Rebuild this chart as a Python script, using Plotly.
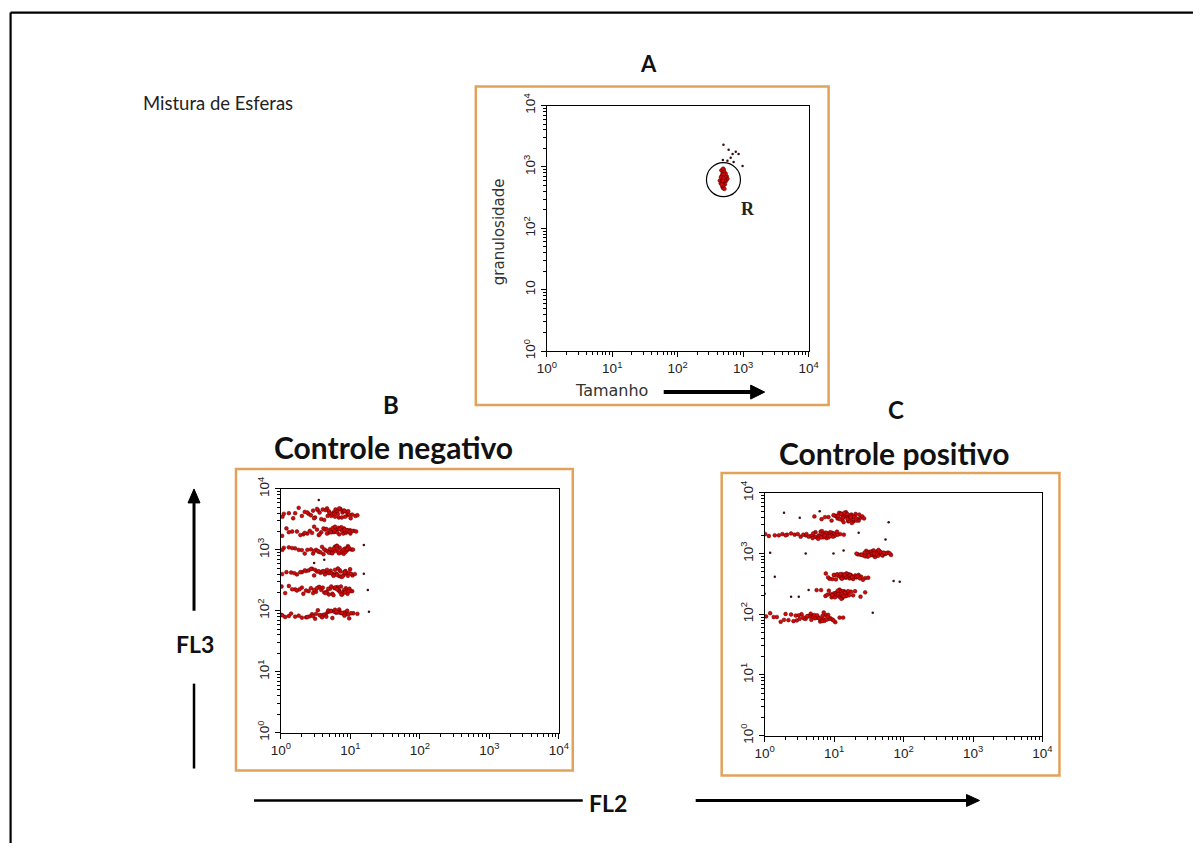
import plotly.graph_objects as go

# figure canvas; the html body adds an 8px margin around it
W, H, BODY = 1203, 851, 8
# capture of the page is slightly reduced; layout positions below are final-image pixels
SX, SY, OX, OY = 0.984, 0.978, 1.0, 2.5

# ---------------- data ----------------
decades = [1, 10, 100, 1000, 10000]
tick_a_x = ["10<sup>0</sup>", "10<sup>1</sup>", "10<sup>2</sup>", "10<sup>3</sup>", "10<sup>4</sup>"]
tick_a_y = ["10<sup>0</sup>", "10", "10<sup>2</sup>", "10<sup>3</sup>", "10<sup>4</sup>"]
tick_std = ["10<sup>0</sup>", "10<sup>1</sup>", "10<sup>2</sup>", "10<sup>3</sup>", "10<sup>4</sup>"]

# A: bead mixture, size (Tamanho) vs granularity (granulosidade)
gate_x = [440, 455, 470, 480, 490, 500, 510, 520, 530, 545, 560, 575, 465, 485, 495, 505, 515, 525,
          540, 475, 490, 500, 512, 528, 458, 482, 498, 508, 520, 535, 470, 495, 505, 518, 488, 502]
gate_y = [600, 540, 700, 480, 820, 620, 560, 740, 660, 590, 700, 640, 880, 650, 450, 900, 700, 520,
          780, 590, 720, 500, 840, 620, 680, 760, 580, 680, 600, 680, 520, 940, 760, 440, 600, 660]
gate_out_x = [500, 600, 690, 770, 850, 645, 575, 980, 490, 715]
gate_out_y = [2290, 1900, 1630, 1770, 1630, 1410, 1260, 1040, 1300, 1200]
gate_center = (500, 620)

# B: negative control, FL2 vs FL3 (six bead populations, top to bottom)
neg_fl2 = [
    [1.1, 3.4, 6.8, 2.2, 9.1, 4.6, 1.5, 7.7, 5.3, 2.9, 10.6, 3.8, 6.1, 1.3, 8.4, 4.9, 2.5, 7.2, 11.8, 5.7,
     3.1, 1.8, 9.6, 6.4, 4.2, 8.0, 2.7, 5.0, 1.05, 7.0, 3.6, 10.1, 6.6, 4.4, 2.0, 8.8, 5.5, 3.3, 7.5, 1.6,
     9.3, 6.0, 4.0, 12.6, 2.4, 5.9, 8.2, 3.0, 6.9, 4.7],
    [2.6, 7.9, 1.2, 5.4, 9.8, 3.5, 6.7, 1.7, 8.6, 4.3, 11.2, 2.1, 7.1, 5.8, 3.0, 9.4, 1.04, 6.2, 4.8, 8.1,
     2.4, 10.5, 5.1, 3.8, 7.4, 1.45, 6.9, 9.0, 4.5, 2.8, 8.4, 5.6, 1.9, 7.6, 3.3, 10.0, 6.4, 4.1, 12.1, 2.2,
     8.9, 5.9, 3.6, 7.0, 1.3, 6.0, 9.7, 4.6, 8.2, 5.2],
    [4.4, 1.1, 7.3, 2.7, 9.2, 5.6, 3.2, 8.0, 1.6, 6.1, 10.4, 3.9, 6.8, 2.0, 8.7, 5.0, 1.3, 7.7, 4.1, 9.7,
     2.4, 6.4, 3.5, 8.3, 5.3, 1.8, 7.0, 4.7, 10.9, 2.9, 6.0, 8.9, 3.7, 5.8, 1.05, 7.5, 4.2, 9.4, 2.2, 6.6,
     5.1, 3.0, 8.5, 1.45, 7.9, 4.9, 6.3, 3.4, 9.0, 5.5],
    [1.2, 5.9, 3.1, 8.8, 2.3, 6.9, 4.5, 1.04, 9.9, 3.7, 7.4, 5.2, 1.7, 8.2, 2.8, 6.3, 4.0, 10.7, 1.4, 7.0,
     5.6, 3.3, 9.2, 2.0, 6.6, 4.8, 8.0, 2.5, 5.0, 11.6, 3.5, 7.7, 1.9, 6.0, 4.3, 9.5, 2.7, 5.4, 8.5, 3.0,
     7.2, 1.55, 4.6, 6.4, 3.9, 10.2, 2.2, 5.7, 8.3, 4.1],
    [3.8, 1.15, 6.5, 2.5, 8.6, 4.9, 1.6, 7.3, 3.2, 9.7, 5.5, 2.0, 6.9, 4.2, 1.3, 8.1, 2.9, 5.9, 10.6, 3.5,
     7.6, 1.85, 4.6, 6.2, 2.3, 9.1, 5.1, 1.02, 7.9, 3.0, 6.0, 4.4, 8.9, 2.7, 5.7, 1.45, 7.0, 3.6, 10.0, 4.8,
     2.1, 6.7, 5.3, 8.4, 3.3, 1.7, 7.4, 4.0, 9.4, 6.4],
    [1.0, 4.7, 2.3, 7.8, 3.4, 1.3, 6.2, 9.6, 2.8, 5.3, 1.6, 8.4, 4.0, 6.9, 2.0, 11.0, 3.7, 5.8, 1.15, 7.3,
     4.4, 9.0, 2.6, 6.5, 3.1, 12.6, 5.0, 1.8, 8.0, 4.2, 6.0, 2.4, 10.2, 3.6, 7.0, 5.5, 1.4, 8.8, 4.8, 2.9,
     6.7, 3.9, 9.3, 5.2, 1.05, 7.5, 4.5, 6.3, 3.2, 8.2],
]
neg_fl3 = [
    [3900, 4500, 3400, 4200, 3700, 4800, 3300, 4100, 3600, 4400, 3800, 3200, 4600, 4000, 3500, 4300, 3900, 4700,
     3600, 4100, 3400, 4900, 3800, 4200, 3100, 4400, 3700, 4000, 3500, 4600, 4100, 3300, 3900, 4500, 3600, 4200,
     3800, 4700, 3400, 4000, 4300, 3500, 4600, 3700, 4100, 3900, 4400, 3300, 4800, 3600],
    [2050, 1850, 2250, 1950, 2100, 1750, 2300, 2000, 1900, 2150, 2050, 1800, 2200, 1950, 2400, 2000, 1700, 2100,
     1900, 2250, 1850, 2050, 2150, 1950, 2350, 2000, 1800, 2100, 2200, 1900, 2000, 2300, 1750, 2050, 2150, 1850,
     1950, 2250, 2000, 1900, 2100, 2050, 1800, 2200, 1950, 2400, 2000, 1850, 2150, 1950],
    [980, 1080, 900, 1020, 1150, 940, 1000, 860, 1060, 960, 1010, 1120, 880, 990, 1040, 920, 1100, 970,
     850, 1030, 1000, 1170, 930, 1050, 890, 1000, 1090, 950, 1010, 870, 1130, 980, 910, 1060, 1000, 940,
     1020, 1100, 870, 990, 1040, 960, 920, 1070, 1000, 900, 1140, 960, 1030, 880],
    [430, 390, 470, 410, 450, 370, 440, 400, 480, 420, 360, 455, 395, 435, 490, 405, 445, 380,
     425, 465, 400, 440, 375, 430, 495, 415, 385, 460, 420, 400, 445, 365, 430, 470, 395, 420,
     485, 410, 450, 380, 440, 415, 470, 390, 430, 405, 460, 375, 425, 445],
    [220, 195, 245, 210, 235, 185, 225, 250, 205, 230, 190, 240, 215, 200, 255, 220, 195, 235,
     210, 245, 185, 225, 205, 240, 215, 190, 230, 250, 200, 220, 240, 195, 215, 235, 180, 225,
     205, 245, 210, 230, 190, 220, 250, 200, 235, 215, 185, 240, 210, 225],
    [86, 95, 78, 90, 102, 82, 93, 75, 88, 99, 80, 94, 85, 105, 77, 91, 84, 97,
     79, 92, 87, 100, 81, 95, 74, 89, 98, 83, 93, 86, 104, 79, 91, 85, 96, 76,
     90, 88, 101, 82, 94, 78, 87, 99, 84, 92, 80, 96, 89, 83],
]
neg_out_fl2 = [3.5, 15.6, 17.8, 18.5, 15.6, 3.0, 4.2]
neg_out_fl3 = [6600, 1200, 220, 96, 405, 610, 690]

# C: positive control, FL2 vs FL3 (six bead populations, top to bottom)
pos_fl2 = [
    [13.5, 17.8, 9.2, 15.1, 21.5, 11.8, 19.0, 7.4, 14.2, 16.6, 24.0, 12.4, 18.3, 10.3, 15.8, 20.4, 13.0, 8.3,
     17.1, 22.6, 14.8, 11.2, 19.7, 16.0, 12.9, 6.6, 18.8, 14.5, 21.0, 10.8, 16.9, 13.7, 25.5, 15.4, 12.1, 19.4,
     9.8, 17.5, 14.0, 20.8, 11.5, 16.3, 23.0, 13.3, 18.0, 5.2, 15.6, 12.6, 27.0, 17.3],
    [1.02, 7.2, 2.1, 9.4, 5.6, 1.4, 8.1, 3.3, 6.4, 10.6, 4.6, 7.8, 1.8, 6.0, 8.8, 2.7, 5.2, 9.9, 7.0, 3.9,
     12.2, 6.7, 1.15, 8.5, 5.9, 2.4, 9.1, 4.3, 7.5, 6.2, 11.3, 3.0, 8.3, 5.4, 1.6, 10.1, 6.9, 4.9, 13.8, 7.7,
     2.0, 9.6, 5.0, 8.0, 3.6, 6.5, 11.0, 7.3, 4.0, 8.7],
    [33, 41, 26, 47, 36, 29, 55, 38, 44, 22, 31, 50, 35, 42, 27, 60, 39, 46, 32, 24,
     53, 37, 43, 30, 48, 34, 66, 40, 28, 45, 36.5, 51, 33.5, 21, 44.5, 38.5, 57, 30.5, 42.5, 35.5,
     49, 27.5, 40.5, 63, 31.5, 46.5, 37.5, 25, 52, 43.5],
    [14.0, 18.5, 11.2, 21.0, 15.8, 9.4, 13.1, 24.5, 16.7, 12.0, 19.6, 7.6, 14.9, 17.4, 10.6, 22.5, 13.6, 16.1,
     28.0, 11.7, 18.0, 15.2, 8.6, 20.2, 12.6, 17.0, 14.4, 26.0, 10.1, 19.0, 15.5, 12.3, 23.5, 16.4, 13.9, 9.9,
     18.8, 14.7, 31.0, 11.0, 17.7, 13.3, 20.8, 15.0, 8.2, 16.9, 12.9, 21.8, 14.2, 18.2],
    [11.0, 12.8, 9.6, 13.9, 10.4, 15.5, 11.8, 8.4, 12.2, 10.0, 17.5, 13.2, 11.4, 6.5, 14.6, 10.8, 12.5, 20.0,
     9.2, 13.6, 11.6, 16.4, 10.2, 12.0, 7.5, 14.2, 11.2, 24.0, 13.0, 9.9, 12.7, 10.6, 18.8, 11.9, 8.9, 14.9,
     12.3, 10.9, 5.6, 13.4, 11.5, 15.9, 9.4, 12.9, 28.0, 10.3, 14.4, 11.3, 8.0, 13.7],
    [5.5, 2.2, 7.6, 3.9, 1.05, 6.3, 4.6, 8.8, 2.9, 5.0, 1.5, 7.0, 3.4, 6.0, 10.4, 4.2, 1.9, 8.2, 5.8, 2.6,
     6.8, 3.7, 1.2, 9.4, 4.9, 7.3, 3.1, 5.3, 12.0, 2.4, 6.5, 4.4, 8.5, 1.7, 5.2, 3.6, 7.9, 2.0, 6.1, 4.1,
     9.8, 1.35, 5.7, 3.2, 7.1, 4.7, 13.5, 2.8, 6.7, 8.0],
]
pos_fl3 = [
    [3900, 4400, 3500, 4100, 3700, 4700, 3400, 4000, 4300, 3600, 3900, 4600, 3300, 4200, 3800, 4500, 3600, 4000,
     4300, 3500, 4800, 3800, 4100, 3400, 4400, 3700, 4000, 4600, 3500, 4200, 3900, 3300, 4100, 4500, 3700, 4000,
     4300, 3600, 4700, 3800, 4200, 3500, 4400, 3900, 3200, 4100, 3700, 4500, 3800, 4000],
    [2100, 1950, 2050, 2200, 1850, 2000, 2150, 1900, 2300, 2050, 1950, 1800, 2100, 2000, 2250, 2050, 1900, 2150,
     1850, 2000, 2100, 2350, 1950, 2050, 1750, 2150, 2000, 1900, 2200, 1950, 2050, 2100, 1850, 2250, 2000, 1950,
     2100, 1800, 2050, 2200, 2000, 1900, 2150, 1950, 2050, 1850, 2300, 2000, 2100, 1950],
    [1000, 1080, 940, 1030, 960, 1110, 990, 900, 1050, 970, 1020, 930, 1090, 1000, 950, 1040, 880, 1010,
     1070, 960, 1000, 1130, 920, 1040, 980, 1060, 950, 1010, 900, 1080, 990, 1030, 940, 1000, 1100, 970,
     1020, 890, 1060, 1000, 950, 1040, 980, 1010, 930, 1070, 1000, 960, 1030, 1150],
    [420, 395, 450, 405, 435, 380, 460, 415, 390, 440, 410, 470, 400, 430, 375, 445, 420, 455,
     395, 425, 410, 465, 385, 435, 400, 450, 415, 370, 440, 405, 425, 460, 390, 430, 410, 445,
     380, 420, 400, 455, 435, 395, 415, 470, 405, 440, 385, 425, 450, 410],
    [215, 230, 200, 240, 210, 225, 195, 245, 220, 205, 235, 185, 215, 250, 200, 225, 210, 240,
     190, 220, 235, 205, 215, 255, 200, 230, 210, 195, 240, 220, 180, 225, 205, 245, 215, 200,
     230, 210, 250, 195, 220, 240, 205, 215, 230, 190, 225, 245, 210, 200],
    [88, 80, 97, 84, 92, 76, 102, 86, 79, 95, 90, 83, 100, 87, 74, 93, 81, 98,
     89, 77, 94, 85, 104, 82, 91, 78, 96, 86, 88, 99, 80, 92, 84, 75, 97, 89,
     82, 101, 86, 93, 79, 90, 96, 84, 107, 81, 88, 95, 77, 91],
]
pos_out_fl2 = [1.9, 3.2, 61, 1.2, 3.9, 1.4, 72, 88, 55, 2.4, 36, 1.0, 9.8, 13.7, 22.6, 4.3, 3.1, 6.2]
pos_out_fl3 = [4700, 3900, 3300, 1030, 1000, 415, 355, 345, 1700, 195, 106, 217, 1000, 1120, 2200, 250, 195, 5000]

# ---------------- styling helpers ----------------
RED = "#d40a0a"
DARK = "#3b0d0d"
ORANGE = "#e2a25a"
TXT = "#111111"
BOLD_FONT = "Lato, 'Open Sans', sans-serif"
AX_FONT = "'DejaVu Sans', sans-serif"
TICK_FONT = dict(family="'Liberation Sans', Arial, sans-serif", size=13.5, color="#222222")


def px(x):
    """image pixel column -> paper fraction"""
    return ((x - OX) / SX - BODY) / W


def py(y):
    """image pixel row -> paper fraction"""
    return 1 - ((y - OY) / SY - BODY) / H


def flat(groups):
    return [v for g in groups for v in g]


minor_vals = [m * d for d in decades[:-1] for m in range(2, 10)]


def log_axis(domain, anchor, labels, vertical=False):
    ax = dict(
        type="log", range=[0, 4], domain=domain, anchor=anchor,
        showline=True, linecolor="black", linewidth=1.2, mirror=True,
        showgrid=False, zeroline=False,
        ticks="outside", ticklen=5, tickwidth=1.2, tickcolor="black",
        tickvals=decades, ticktext=labels, tickfont=TICK_FONT,
        minor=dict(ticks="outside", ticklen=3, tickwidth=1, tickcolor="black",
                   tickvals=minor_vals, showgrid=False),
    )
    if vertical:
        ax["tickangle"] = -90
    return ax


fig = go.Figure()

dot = dict(color=RED, size=3.8, line=dict(color="#5a0000", width=0.5))
dark = dict(color=DARK, size=2.5)

# A
fig.add_trace(go.Scatter(x=gate_x, y=gate_y, mode="markers", marker=dot, xaxis="x", yaxis="y"))
fig.add_trace(go.Scatter(x=gate_out_x, y=gate_out_y, mode="markers", marker=dark, xaxis="x", yaxis="y"))
fig.add_trace(go.Scatter(x=[gate_center[0]], y=[gate_center[1]], mode="markers",
                         marker=dict(symbol="circle-open", size=34, color="black", line=dict(width=1.2)),
                         xaxis="x", yaxis="y"))
# B
fig.add_trace(go.Scatter(x=flat(neg_fl2), y=flat(neg_fl3), mode="markers", marker=dot, xaxis="x2", yaxis="y2"))
fig.add_trace(go.Scatter(x=neg_out_fl2, y=neg_out_fl3, mode="markers", marker=dark, xaxis="x2", yaxis="y2"))
# C
fig.add_trace(go.Scatter(x=flat(pos_fl2), y=flat(pos_fl3), mode="markers", marker=dot, xaxis="x3", yaxis="y3"))
fig.add_trace(go.Scatter(x=pos_out_fl2, y=pos_out_fl3, mode="markers", marker=dark, xaxis="x3", yaxis="y3"))

shapes = []
# panel frames
for (x0, y0, x1, y1) in [(475, 85, 828, 404), (235, 468, 572, 770), (721, 472, 1059, 775)]:
    shapes.append(dict(type="rect", xref="paper", yref="paper", x0=px(x0), x1=px(x1), y0=py(y0), y1=py(y1),
                       line=dict(color=ORANGE, width=2.5), layer="below"))
# outer border (left and top edges), kept on the very edge of the canvas
bx, by = 0.6 / W, 1 - 0.6 / H
shapes.append(dict(type="line", xref="paper", yref="paper", x0=bx, x1=bx, y0=by, y1=0,
                   line=dict(color="black", width=2.2)))
shapes.append(dict(type="line", xref="paper", yref="paper", x0=bx, x1=1, y0=by, y1=by,
                   line=dict(color="black", width=2.2)))


def line(x0, y0, x1, y1, w):
    shapes.append(dict(type="line", xref="paper", yref="paper", x0=px(x0), x1=px(x1), y0=py(y0), y1=py(y1),
                       line=dict(color="black", width=w)))


def head(points):
    path = "M " + " L ".join(f"{px(a)},{py(b)}" for a, b in points) + " Z"
    shapes.append(dict(type="path", xref="paper", yref="paper", path=path,
                       fillcolor="black", line=dict(color="black", width=1)))


# Tamanho arrow
line(663, 391, 752, 391, 4)
head([(750, 384), (764, 391), (750, 398)])
# FL3 arrows
line(193, 610, 193, 500, 3)
head([(187, 502), (193, 488), (199, 502)])
line(193, 683, 193, 768, 2.5)
# FL2 arrows
line(253, 800, 582, 800, 2.5)
line(695, 800, 968, 800, 3)
head([(966, 794), (979, 800), (966, 806)])

ann = []


def text(t, x, y, size, bold=True, family=BOLD_FONT, angle=0, xanchor="center", color=TXT):
    ann.append(dict(text=f"<b>{t}</b>" if bold else t, x=px(x), y=py(y), xref="paper", yref="paper",
                    showarrow=False, xanchor=xanchor, yanchor="middle", textangle=angle,
                    font=dict(family=family, size=size, color=color)))


text("A", 648, 62, 22)
text("Mistura de Esferas", 140, 101, 18.5, bold=False, xanchor="left", color="#222222")
text("B", 390, 403, 24)
text("Controle negativo", 393, 446, 30)
text("C", 895, 408, 24)
text("Controle positivo", 893, 452, 30)
text("FL3", 194, 643, 23)
text("FL2", 607, 803, 23)
text("granulosidade", 499, 230, 15, bold=False, family=AX_FONT, angle=-90, color="#333333")
text("Tamanho", 611, 389, 16, bold=False, family=AX_FONT, color="#333333")
text("R", 747, 208, 18, family="'Liberation Serif', 'DejaVu Serif', serif", color="#222222")

fig.update_layout(
    width=W, height=H, margin=dict(l=0, r=0, t=0, b=0),
    paper_bgcolor="white", plot_bgcolor="white", showlegend=False,
    xaxis=log_axis([px(546), px(808)], "y", tick_a_x),
    yaxis=log_axis([py(350), py(104)], "x", tick_a_y, vertical=True),
    xaxis2=log_axis([px(280), px(558)], "y2", tick_std),
    yaxis2=log_axis([py(732), py(488)], "x2", tick_std, vertical=True),
    xaxis3=log_axis([px(764), px(1042)], "y3", tick_std),
    yaxis3=log_axis([py(735), py(492)], "x3", tick_std, vertical=True),
    shapes=shapes, annotations=ann,
)

fig.write_html("out.html")
